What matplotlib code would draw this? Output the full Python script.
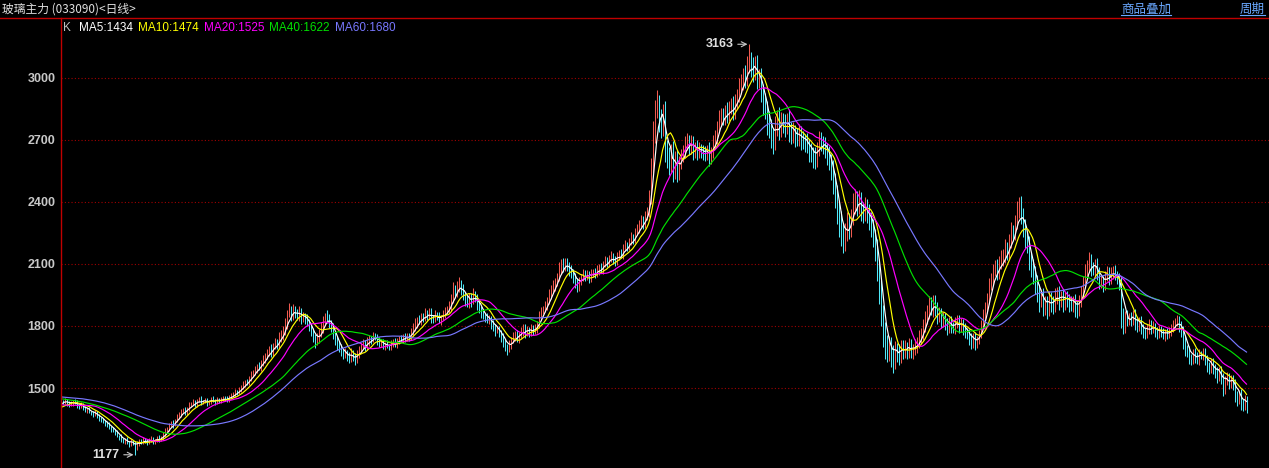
import numpy as np
import pandas as pd
import matplotlib
matplotlib.use("Agg")
import matplotlib.pyplot as plt
from matplotlib.lines import Line2D

plt.rcParams['font.family'] = ['Noto Sans CJK SC', 'DejaVu Sans']

title = "玻璃主力 (033090)<日线>"
links = ["商品叠加", "周期"]
ma_periods = [5, 10, 20, 40, 60]
ma_shown = [1434, 1474, 1525, 1622, 1680]
ma_colors = ["#ffffff", "#ffff00", "#ff00ff", "#00e000", "#7878ff"]
y_ticks = [1500, 1800, 2100, 2400, 2700, 3000]

# closes before the first visible bar (only feed the moving averages)
warmup = [
    1488, 1495, 1480, 1472, 1468, 1476, 1485, 1470, 1462, 1458,
    1466, 1478, 1490, 1482, 1470, 1465, 1474, 1486, 1479, 1466,
    1470, 1482, 1494, 1488, 1476, 1468, 1480, 1492, 1485, 1472,
    1465, 1476, 1488, 1478, 1470, 1462, 1474, 1482, 1470, 1460,
    1452, 1446, 1438, 1444, 1432, 1426, 1430, 1420, 1424, 1414,
    1402, 1396, 1388, 1392, 1386, 1398, 1412, 1420, 1430, 1436,
]

# daily closes
close = [
    1432, 1440, 1428, 1418, 1425, 1436, 1430, 1415, 1408, 1420,
    1405, 1392, 1398, 1385, 1378, 1372, 1380, 1366, 1352, 1345,
    1338, 1330, 1322, 1310, 1302, 1295, 1285, 1270, 1262, 1248,
    1240, 1252, 1236, 1228, 1242, 1235, 1210, 1232, 1245, 1238,
    1250, 1242, 1236, 1248, 1255, 1240, 1246, 1258, 1252, 1262,
    1275, 1290, 1302, 1318, 1330, 1322, 1345, 1362, 1372, 1388,
    1395, 1380, 1402, 1418, 1425, 1432, 1420, 1438, 1445, 1430,
    1436, 1442, 1428, 1434, 1448, 1440, 1432, 1446, 1438, 1444,
    1452, 1448, 1440, 1458, 1465, 1472, 1480, 1478, 1492, 1505,
    1518, 1530, 1525, 1548, 1562, 1575, 1590, 1605, 1598, 1622,
    1640, 1655, 1668, 1690, 1672, 1705, 1720, 1712, 1745, 1760,
    1775, 1810, 1858, 1875, 1850, 1880, 1862, 1845, 1870, 1838,
    1850, 1835, 1818, 1800, 1770, 1745, 1722, 1740, 1765, 1790,
    1825, 1850, 1838, 1815, 1790, 1760, 1730, 1712, 1690, 1675,
    1660, 1672, 1655, 1640, 1668, 1650, 1635, 1662, 1690, 1700,
    1715, 1698, 1722, 1740, 1735, 1752, 1748, 1728, 1715, 1720,
    1700, 1712, 1705, 1698, 1716, 1722, 1710, 1728, 1740, 1735,
    1748, 1738, 1752, 1745, 1770, 1795, 1812, 1830, 1822, 1845,
    1836, 1862, 1850, 1868, 1840, 1832, 1855, 1848, 1830, 1842,
    1860, 1872, 1880, 1895, 1925, 1978, 1962, 1990, 2005, 1980,
    1948, 1925, 1910, 1942, 1920, 1955, 1938, 1905, 1880, 1862,
    1850, 1842, 1828, 1835, 1810, 1795, 1780, 1785, 1768, 1750,
    1718, 1702, 1690, 1712, 1730, 1748, 1762, 1740, 1758, 1772,
    1795, 1770, 1782, 1768, 1790, 1775, 1788, 1810, 1845, 1872,
    1880, 1895, 1920, 1950, 1975, 1992, 2010, 2032, 2075, 2098,
    2080, 2105, 2090, 2070, 2055, 2040, 2010, 1985, 2020, 2035,
    2058, 2042, 2050, 2030, 2055, 2062, 2048, 2070, 2085, 2072,
    2100, 2118, 2105, 2125, 2140, 2122, 2110, 2135, 2150, 2142,
    2175, 2190, 2182, 2205, 2228, 2215, 2248, 2265, 2290, 2310,
    2290, 2325, 2350, 2420, 2560, 2720, 2850, 2880, 2800, 2760,
    2830, 2665, 2620, 2580, 2640, 2555, 2610, 2545, 2590, 2620,
    2650, 2680, 2700, 2665, 2690, 2645, 2668, 2640, 2660, 2650,
    2642, 2630, 2655, 2620, 2640, 2690, 2710, 2760, 2800, 2815,
    2800, 2835, 2820, 2850, 2865, 2835, 2880, 2910, 2950, 2975,
    3010, 2990, 3060, 3080, 3050, 3020, 3070, 2995, 3010, 2940,
    2880, 2850, 2790, 2760, 2720, 2695, 2770, 2805, 2760, 2790,
    2785, 2770, 2800, 2752, 2730, 2745, 2720, 2710, 2735, 2705,
    2700, 2690, 2680, 2650, 2640, 2625, 2610, 2660, 2700, 2690,
    2680, 2655, 2630, 2600, 2560, 2500, 2430, 2360, 2300, 2250,
    2220, 2260, 2300, 2280, 2330, 2395, 2420, 2380, 2410, 2360,
    2345, 2380, 2350, 2320, 2280, 2240, 2180, 2090, 1980, 1870,
    1780, 1710, 1690, 1720, 1670, 1650, 1695, 1680, 1660, 1705,
    1680, 1700, 1685, 1710, 1678, 1690, 1705, 1720, 1745, 1760,
    1800, 1835, 1870, 1905, 1880, 1920, 1890, 1850, 1862, 1830,
    1840, 1810, 1795, 1820, 1800, 1790, 1815, 1830, 1800, 1812,
    1790, 1770, 1762, 1740, 1725, 1745, 1720, 1735, 1760, 1800,
    1850, 1880, 1930, 1990, 2020, 2060, 2080, 2050, 2100, 2120,
    2130, 2170, 2150, 2200, 2250, 2240, 2290, 2350, 2380, 2330,
    2270, 2220, 2190, 2120, 2080, 2050, 2010, 1960, 1930, 1950,
    1900, 1915, 1890, 1935, 1920, 1905, 1950, 1960, 1930, 1945,
    1915, 1940, 1935, 1920, 1910, 1925, 1895, 1880, 1920, 1960,
    2010, 2060, 2090, 2120, 2080, 2075, 2100, 2060, 2010, 2020,
    2000, 2040, 2060, 2030, 2055, 2070, 2045, 2030, 2010, 1860,
    1800, 1850, 1830, 1845, 1830, 1860, 1815, 1800, 1825, 1790,
    1770, 1765, 1790, 1810, 1785, 1800, 1775, 1760, 1780, 1770,
    1755, 1770, 1760, 1775, 1790, 1805, 1820, 1830, 1800, 1780,
    1730, 1690, 1680, 1650, 1640, 1670, 1655, 1640, 1665, 1660,
    1675, 1640, 1610, 1595, 1620, 1600, 1580, 1560, 1585, 1550,
    1500, 1540, 1555, 1530, 1545, 1520, 1470, 1450, 1470, 1430,
    1420, 1445, 1410,
]

# shadow above the body / below the body for each bar
up_wick = [
    8, 12, 6, 10, 14, 5, 9, 11, 7, 13, 6, 10, 8, 12, 5, 9, 14, 7, 10, 6,
    11, 7, 9, 13, 6, 10, 8, 12, 5, 14, 9, 7, 11, 6, 13, 8, 10, 12, 7, 9,
    12, 6, 10, 8, 14, 9, 7, 11, 13, 6, 10, 15, 8, 12, 9, 16, 7, 11, 14, 10,
    9, 13, 8, 12, 6, 15, 10, 7, 11, 14, 8, 10, 12, 6, 9, 13, 7, 11, 8, 12,
    10, 7, 14, 9, 12, 8, 15, 11, 13, 9, 16, 10, 14, 12, 18, 11, 15, 9, 20, 13,
    18, 12, 22, 15, 25, 14, 20, 16, 28, 19, 24, 30, 18, 35, 22, 27, 15, 21, 26, 17,
    20, 14, 24, 18, 12, 22, 16, 25, 19, 28, 21, 15, 26, 18, 13, 23, 17, 20, 14, 22,
    16, 21, 12, 18, 24, 14, 19, 22, 13, 17, 20, 15, 23, 18, 12, 21, 16, 14, 19, 11,
    15, 12, 18, 10, 16, 13, 19, 14, 11, 17, 13, 20, 12, 16, 22, 18, 25, 15, 21, 19,
    16, 23, 14, 20, 18, 12, 22, 15, 19, 13, 17, 21, 16, 24, 28, 35, 20, 26, 30, 18,
    22, 16, 25, 18, 20, 28, 14, 19, 23, 15, 18, 12, 21, 16, 14, 19, 13, 17, 15, 11,
    14, 18, 12, 20, 16, 22, 13, 19, 15, 24, 17, 14, 20, 12, 18, 16, 21, 15, 26, 22,
    18, 25, 20, 28, 22, 30, 24, 26, 35, 28, 32, 25, 22, 18, 24, 20, 16, 22, 19, 15,
    18, 14, 20, 16, 22, 15, 19, 24, 17, 21, 16, 23, 18, 20, 25, 14, 19, 22, 17, 24,
    20, 26, 18, 22, 28, 19, 25, 30, 22, 27, 24, 32, 28, 40, 55, 70, 45, 60, 38, 50,
    45, 60, 35, 48, 40, 55, 38, 42, 30, 36, 28, 40, 32, 26, 35, 30, 24, 33, 28, 22,
    26, 30, 22, 34, 28, 36, 40, 32, 45, 38, 42, 35, 48, 40, 36, 50, 44, 38, 52, 46,
    40, 55, 48, 83, 45, 50, 38, 42, 35, 40, 32, 45, 38, 50, 42, 36, 48, 40, 55, 44,
    38, 42, 30, 46, 34, 40, 28, 36, 44, 32, 38, 30, 42, 26, 35, 28, 40, 32, 45, 38,
    30, 36, 28, 40, 32, 45, 38, 50, 42, 55, 48, 40, 52, 45, 38, 50, 42, 35, 46, 40,
    38, 45, 32, 40, 30, 36, 28, 40, 35, 42, 30, 38, 45, 32, 28, 36, 30, 25, 34, 28,
    26, 32, 24, 30, 28, 22, 30, 26, 34, 28, 32, 36, 30, 40, 34, 28, 32, 26, 30, 24,
    28, 22, 30, 24, 26, 20, 28, 24, 22, 26, 20, 24, 18, 22, 26, 20, 24, 18, 22, 28,
    30, 36, 32, 40, 35, 42, 38, 45, 40, 48, 42, 50, 38, 45, 52, 40, 48, 55, 45, 50,
    42, 48, 36, 44, 38, 45, 40, 35, 42, 30, 36, 32, 28, 35, 30, 26, 34, 28, 32, 25,
    28, 24, 30, 22, 26, 20, 28, 24, 30, 35, 32, 38, 30, 36, 28, 32, 26, 30, 24, 28,
    22, 26, 30, 24, 28, 22, 26, 20, 24, 30, 28, 22, 26, 20, 24, 18, 22, 26, 20, 24,
    18, 22, 20, 24, 18, 22, 16, 20, 24, 18, 22, 16, 20, 18, 22, 26, 20, 24, 18, 22,
    20, 24, 18, 22, 16, 20, 24, 18, 22, 16, 20, 18, 22, 16, 20, 24, 18, 22, 16, 20,
    22, 18, 24, 16, 20, 18, 22, 16, 20, 24, 18, 22, 15,
]
dn_wick = [
    10, 7, 13, 9, 6, 12, 8, 14, 10, 7, 12, 9, 15, 8, 11, 13, 7, 10, 14, 9,
    8, 12, 10, 7, 14, 9, 11, 6, 13, 10, 8, 12, 9, 15, 7, 11, 33, 9, 12, 8,
    11, 8, 13, 7, 10, 12, 9, 6, 11, 8, 13, 10, 7, 12, 9, 14, 8, 11, 10, 13,
    7, 12, 9, 14, 10, 8, 13, 11, 6, 12, 9, 10, 14, 8, 11, 7, 13, 9, 12, 10,
    8, 13, 10, 7, 12, 9, 14, 11, 8, 13, 10, 15, 9, 12, 16, 10, 14, 18, 11, 15,
    14, 20, 16, 12, 22, 18, 15, 24, 17, 21, 26, 19, 23, 16, 28, 20, 25, 18, 22, 30,
    17, 24, 20, 26, 18, 22, 28, 15, 21, 19, 25, 16, 22, 27, 18, 24, 20, 26, 15, 21,
    19, 14, 22, 17, 12, 20, 25, 15, 18, 22, 13, 19, 16, 21, 24, 14, 18, 20, 15, 17,
    13, 18, 11, 16, 14, 20, 12, 17, 15, 13, 19, 14, 12, 18, 15, 13, 17, 20, 14, 16,
    18, 14, 22, 16, 25, 19, 13, 21, 17, 23, 15, 20, 14, 18, 22, 16, 26, 20, 24, 30,
    20, 26, 18, 24, 30, 16, 22, 28, 19, 25, 17, 22, 15, 20, 24, 18, 26, 16, 22, 28,
    18, 24, 30, 16, 22, 14, 20, 18, 24, 15, 21, 26, 17, 22, 14, 19, 16, 22, 18, 14,
    16, 12, 20, 15, 18, 14, 22, 17, 13, 25, 20, 16, 24, 28, 22, 30, 26, 20, 18, 22,
    16, 22, 18, 24, 15, 20, 17, 13, 21, 16, 19, 14, 22, 18, 15, 24, 20, 16, 18, 14,
    17, 13, 20, 15, 12, 18, 14, 10, 16, 13, 20, 15, 12, 25, 30, 20, 35, 45, 60, 50,
    40, 70, 55, 48, 36, 60, 42, 50, 38, 30, 26, 34, 28, 40, 32, 44, 30, 38, 26, 35,
    40, 32, 28, 44, 36, 25, 22, 30, 26, 34, 30, 28, 36, 30, 26, 38, 32, 28, 24, 30,
    34, 40, 28, 36, 45, 38, 30, 50, 42, 55, 60, 48, 65, 50, 58, 62, 45, 52, 60, 48,
    50, 56, 42, 60, 48, 44, 52, 40, 38, 55, 46, 50, 42, 58, 48, 60, 52, 40, 36, 44,
    48, 42, 50, 46, 55, 60, 58, 65, 70, 62, 68, 55, 48, 60, 50, 42, 55, 48, 40, 52,
    45, 38, 50, 55, 48, 60, 65, 70, 75, 68, 80, 72, 65, 58, 70, 78, 60, 52, 48, 40,
    42, 36, 45, 38, 32, 40, 30, 35, 28, 32, 26, 30, 24, 34, 28, 36, 42, 38, 32, 40,
    36, 30, 38, 28, 34, 26, 30, 24, 32, 28, 34, 30, 26, 32, 38, 30, 36, 28, 22, 18,
    16, 20, 15, 22, 18, 24, 20, 28, 22, 26, 30, 24, 32, 26, 22, 30, 25, 20, 28, 35,
    40, 45, 38, 50, 42, 48, 55, 45, 60, 40, 52, 45, 58, 42, 50, 48, 38, 44, 52, 40,
    46, 38, 42, 50, 36, 44, 52, 40, 34, 28, 22, 26, 20, 30, 36, 28, 32, 38, 30, 26,
    34, 28, 24, 32, 26, 30, 22, 28, 34, 70, 40, 32, 28, 24, 30, 26, 32, 28, 24, 30,
    26, 30, 22, 28, 24, 20, 26, 22, 18, 24, 20, 26, 22, 18, 24, 20, 16, 22, 28, 34,
    40, 36, 30, 34, 28, 26, 32, 24, 28, 22, 26, 30, 34, 28, 24, 30, 34, 38, 28, 32,
    40, 30, 26, 34, 28, 32, 40, 36, 28, 34, 30, 26, 32,
]

W, H = 1269, 468
LEFT, TOP = 61, 18

n = min(len(close), len(up_wick), len(dn_wick))
c = np.array(close[:n], dtype=float)
o = np.r_[warmup[-1], c[:-1]]
highs = np.maximum(o, c) + np.array(up_wick[:n])
lows = np.minimum(o, c) - np.array(dn_wick[:n])
x = np.arange(n)
bar_colors = np.where(c >= o, "#f05a50", "#50e8f8")

fig = plt.figure(figsize=(W / 100, H / 100), dpi=100, facecolor="black")
ax = fig.add_axes([LEFT / W, 0, (W - LEFT) / W, (H - TOP) / H])
ax.set_facecolor("black")
ax.set_xlim(-0.75, -0.75 + (W - LEFT) / 2)
ax.set_ylim(1113, 3290)
for s in ax.spines.values():
    s.set_visible(False)
ax.set_xticks([])
ax.set_yticks(y_ticks)
ax.set_yticklabels([str(v) for v in y_ticks], color="#c8c8c8", fontsize=9,
                   fontweight="bold", family="Liberation Sans")
ax.tick_params(axis="y", length=0, pad=4)

for v in y_ticks:
    ax.axhline(v, color="#a00000", lw=0.8, ls=(0, (1, 2)), zorder=0)

ax.vlines(x, lows, highs, colors=bar_colors, lw=0.75, zorder=2)

series = pd.Series(warmup + list(c))
for p, col in zip(ma_periods, ma_colors):
    ma = series.rolling(p).mean().to_numpy()[len(warmup):]
    ax.plot(x, ma, color=col, lw=0.85, zorder=3)

# highest / lowest marks
imax = int(np.argmax(highs))
imin = int(np.argmin(lows))
for i, v in [(imax, highs[imax]), (imin, lows[imin])]:
    ax.annotate(f"{int(v)}", xy=(i - 0.5, v), xytext=(-10, 0), textcoords="offset points",
                ha="right", va="center", color="#e0e0e0", fontsize=9, fontweight="bold",
                family="Liberation Sans", zorder=5,
                arrowprops=dict(arrowstyle="->", color="#c8c8c8", lw=0.8,
                                shrinkA=1, shrinkB=0))

# frame lines
fig.add_artist(Line2D([0, 1], [1 - TOP / H] * 2, transform=fig.transFigure,
                      color="#c00000", lw=1.0))
fig.add_artist(Line2D([LEFT / W] * 2, [0, 1 - TOP / H], transform=fig.transFigure,
                      color="#c00000", lw=1.0))

fig.text(2 / W, 1 - 9 / H, title, color="#e0e0e0", fontsize=8.5, va="center", ha="left")

fig.canvas.draw()
r = fig.canvas.get_renderer()

# MA legend line
fig.text(63 / W, 1 - 28 / H, "K", color="#c0c0c0", fontsize=8.5, va="center",
         family="Liberation Sans")
xpos = 79
for p, val, col in zip(ma_periods, ma_shown, ma_colors):
    t = fig.text(xpos / W, 1 - 28 / H, f"MA{p}:{val}", color=col, fontsize=8.5,
                 va="center", family="Liberation Sans")
    bb = t.get_window_extent(r)
    xpos = bb.x1 + 5

# links top right, underlined
for label, right in zip(links, [1171, 1265]):
    t = fig.text(right / W, 1 - 9 / H, label, color="#6aa8ff", fontsize=9,
                 va="center", ha="right")
    bb = t.get_window_extent(r)
    fig.add_artist(Line2D([bb.x0 / W, bb.x1 / W], [(bb.y0 + 1) / H] * 2,
                          transform=fig.transFigure, color="#6aa8ff", lw=0.8))

fig.savefig("out.png", dpi=100, facecolor="black")
print(n, len(close), len(up_wick), len(dn_wick))
